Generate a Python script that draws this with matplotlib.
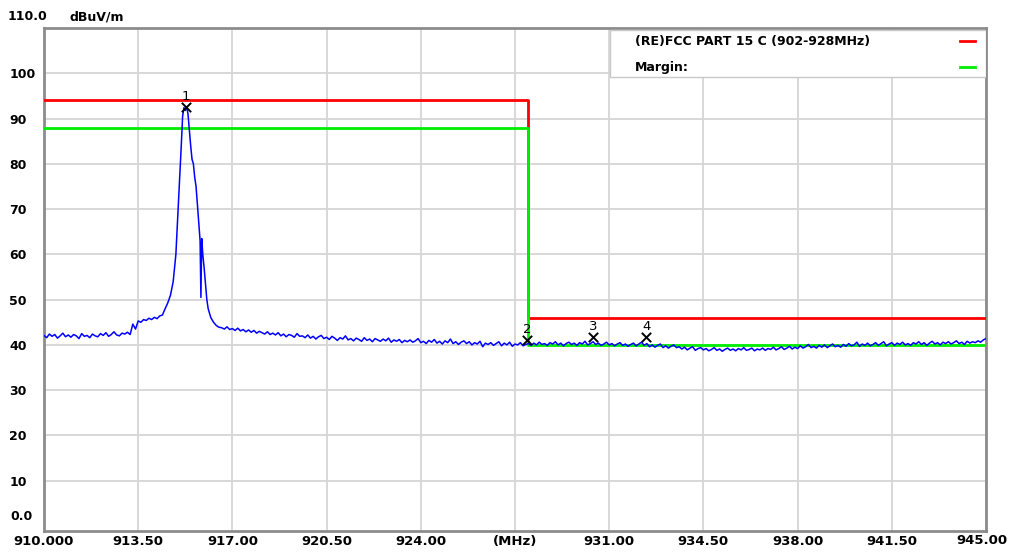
import numpy as np
import matplotlib
matplotlib.use("Agg")
import matplotlib.pyplot as plt

# ---- data ----
# noise floor before the carrier, 910.0 .. 914.4 MHz every 0.1 MHz
low_start, low_step = 910.0, 0.1
low_level = [
    42.1, 41.6, 42.4, 41.9, 42.3, 41.5, 42.0, 42.6, 41.8, 42.2,
    41.7, 42.3, 42.0, 41.4, 42.5, 41.9, 42.1, 41.6, 42.4, 42.0,
    41.8, 42.5, 42.1, 42.7, 41.9, 42.3, 42.9, 42.2, 42.0, 42.6,
    42.4, 42.8, 42.3, 44.6, 43.5, 45.3, 45.0, 45.6, 45.4, 45.9,
    45.6, 46.1, 45.8, 46.4, 46.6,
]

# carrier peak
peak_freq = [914.5, 914.6, 914.7, 914.8, 914.9, 915.0, 915.1, 915.15, 915.2,
             915.25, 915.3, 915.35, 915.4, 915.45, 915.5, 915.55, 915.6,
             915.65, 915.7, 915.75, 915.8, 915.83, 915.86, 915.9, 915.95,
             916.0, 916.05, 916.1, 916.2, 916.3, 916.4, 916.5]
peak_level = [48.0, 49.3, 51.0, 54.0, 60.0, 72.0, 84.0, 90.5, 92.4,
              91.8, 92.6, 91.0, 87.5, 84.0, 81.0, 80.0, 77.0,
              75.0, 71.0, 67.0, 63.0, 50.5, 63.5, 60.0, 57.0,
              53.5, 50.0, 48.0, 46.0, 45.0, 44.3, 43.9]

# noise floor after the carrier, 916.6 .. 945.0 MHz every 0.1 MHz
high_start, high_step = 916.6, 0.1
high_level = [
    43.8, 43.5, 44.0, 43.4, 43.6, 43.2, 43.7, 43.1, 43.4, 42.9,
    43.3, 42.8, 43.2, 42.6, 43.0, 42.7, 42.4, 42.9, 42.3, 42.6,
    42.2, 42.7, 42.0, 42.4, 41.8, 42.3, 42.1, 41.7, 42.5, 41.9,
    42.0, 41.6, 42.2, 41.5, 41.9, 41.3, 41.8, 42.1, 41.4, 41.7,
    41.2, 41.9, 41.5, 41.0, 41.6, 41.3, 42.0, 41.1, 41.4, 40.9,
    41.5, 41.2, 40.8, 41.6, 41.0, 41.3, 40.7, 41.4, 41.1, 40.8,
    41.3, 40.9, 41.5, 40.6, 41.1, 40.8, 41.2, 40.5, 41.0, 40.7,
    41.1, 40.6, 40.9, 41.4, 40.5, 40.8, 40.3, 41.0, 40.6, 41.2,
    40.4, 40.8, 40.2, 40.9, 40.5, 41.3, 40.3, 40.7, 40.1, 40.6,
    40.9, 40.3, 40.7, 40.0, 40.5, 40.2, 40.8, 39.6, 40.4, 40.1,
    40.5, 39.9, 40.3, 40.7, 39.8, 40.4, 40.0, 40.6, 39.7, 40.2,
    40.0, 40.5, 39.8, 40.1, 40.3, 39.9, 40.4, 40.0, 40.6, 40.1,
    40.3, 39.9, 40.5, 40.2, 40.7, 40.0, 40.4, 39.8, 40.3, 40.6,
    40.1, 40.4, 39.9, 40.5, 40.2, 40.8, 40.0, 40.3, 40.7, 40.1,
    40.4, 39.9, 40.2, 40.6, 40.0, 40.3, 39.8, 40.2, 40.5, 39.9,
    40.2, 39.7, 40.1, 40.4, 39.8, 40.2, 40.6, 39.9, 40.3, 39.6,
    40.0, 39.5, 39.9, 40.2, 39.4, 39.8, 39.3, 39.7, 40.0, 39.4,
    39.6, 39.1, 39.5, 38.9, 39.3, 39.6, 38.8, 39.2, 39.4, 38.9,
    39.2, 38.7, 39.0, 39.4, 38.8, 39.1, 38.6, 39.0, 39.3, 38.8,
    39.1, 38.7, 39.2, 38.9, 39.4, 38.8, 39.0, 39.3, 38.7, 39.1,
    38.9, 39.3, 38.8, 39.2, 39.0, 39.5, 38.9, 39.2, 39.6, 39.0,
    39.3, 39.7, 39.1, 39.5, 39.2, 39.8, 39.3, 39.6, 40.1, 39.4,
    39.7, 39.3, 39.9, 39.5, 40.0, 39.4, 39.8, 40.2, 39.6, 39.9,
    39.5, 40.1, 39.7, 40.3, 39.8, 40.0, 40.6, 39.7, 40.2, 39.9,
    40.4, 39.8, 40.1, 40.5, 39.9, 40.3, 40.7, 39.8, 40.2, 40.5,
    39.9, 40.4, 40.1, 40.6, 40.0, 40.3, 39.9, 40.5, 40.2, 40.7,
    40.1, 40.5, 39.9, 40.4, 40.8, 40.2, 40.5, 40.0, 40.6, 40.3,
    40.7, 40.2, 40.5, 40.9, 40.3, 40.6, 40.1, 40.8, 40.4, 40.7,
    40.5, 40.9, 40.6, 41.1, 41.4,
]

# limit lines (step at 928 MHz)
limit_freq = [910.0, 928.0, 928.0, 945.0]
limit_level = [94.0, 94.0, 46.0, 46.0]
margin_level = [88.0, 88.0, 40.0, 40.0]

# markers
marker_id = ["1", "2", "3", "4"]
marker_freq = [915.27, 927.95, 930.39, 932.37]
marker_level = [92.6, 41.0, 41.8, 41.8]

legend_labels = ["(RE)FCC PART 15 C (902-928MHz)", "Margin:"]

x_ticks = [910.0 + 3.5 * i for i in range(11)]
x_labels = ["910.000", "913.50", "917.00", "920.50", "924.00", "(MHz)",
            "931.00", "934.50", "938.00", "941.50", ""]
y_ticks = [10, 20, 30, 40, 50, 60, 70, 80, 90, 100]

# ---- build trace ----
low_freq = low_start + low_step * np.arange(len(low_level))
high_freq = high_start + high_step * np.arange(len(high_level))
freq = np.concatenate([low_freq, peak_freq, high_freq])
level = np.concatenate([low_level, peak_level, high_level])

W, H = 1012, 554
fig = plt.figure(figsize=(W / 100, H / 100), dpi=100)
ax_l, ax_r, ax_t, ax_b = 44, 986, 28, 531
ax = fig.add_axes([ax_l / W, 1 - ax_b / H, (ax_r - ax_l) / W, (ax_b - ax_t) / H])

bold = dict(family="DejaVu Sans", weight="bold", size=9)
narrow = dict(family=["Liberation Sans Narrow", "DejaVu Sans"], weight="bold", size=9.5)

ax.set_xlim(910, 945)
ax.set_ylim(-1.1, 110)
ax.set_xticks(x_ticks)
ax.set_yticks(y_ticks)
ax.grid(True, color="#d6d6d6", linewidth=1.3)
ax.set_axisbelow(True)
for s in ax.spines.values():
    s.set_color("#8c8c8c")
    s.set_linewidth(2)

ax.tick_params(length=0)
ax.set_xticklabels(x_labels, **narrow)
ax.set_yticklabels([str(v) for v in y_ticks], **bold)
ax.tick_params(axis="x", pad=3)
ax.tick_params(axis="y", pad=25)
for lab in ax.get_yticklabels():
    lab.set_horizontalalignment("left")

# texts outside the grid
fig.text(10 / W, 1 - 516 / H, "0.0", ha="left", va="center", **bold)
fig.text(8 / W, 1 - 17 / H, "110.0", ha="left", va="center", **bold)
fig.text(70 / W, 1 - 17 / H, "dBuV/m", ha="left", va="center", **bold)
fig.text(1008 / W, 1 - 540 / H, "945.00", ha="right", va="center", **narrow)

# lines
ax.plot(limit_freq, limit_level, color="#ff0000", lw=2, zorder=3)
ax.plot(limit_freq, margin_level, color="#00ee00", lw=2, zorder=3)
ax.plot(freq, level, color="#0000ff", lw=1.1, zorder=4)

ax.scatter(marker_freq, marker_level, marker="x", s=45, color="black",
           linewidths=1.4, zorder=5)
for mid, mf, ml in zip(marker_id, marker_freq, marker_level):
    ax.annotate(mid, (mf, ml), xytext=(0, 3), textcoords="offset points",
                ha="center", va="bottom", fontsize=9.5, color="black", zorder=6)

# legend box
ax.add_patch(plt.Rectangle((0.601, 0.902), 0.399, 0.094, transform=ax.transAxes,
                           facecolor="white", edgecolor="#c8c8c8", lw=1, zorder=6))
ax.text(0.6274, 0.974, legend_labels[0], transform=ax.transAxes, ha="left",
        va="center", zorder=7, **bold)
ax.text(0.6274, 0.922, legend_labels[1], transform=ax.transAxes, ha="left",
        va="center", zorder=7, **bold)
ax.plot([0.972, 0.988], [0.974, 0.974], transform=ax.transAxes, color="#ff0000",
        lw=2, zorder=7)
ax.plot([0.972, 0.988], [0.922, 0.922], transform=ax.transAxes, color="#00ee00",
        lw=2, zorder=7)

fig.savefig("out.png", dpi=100)
